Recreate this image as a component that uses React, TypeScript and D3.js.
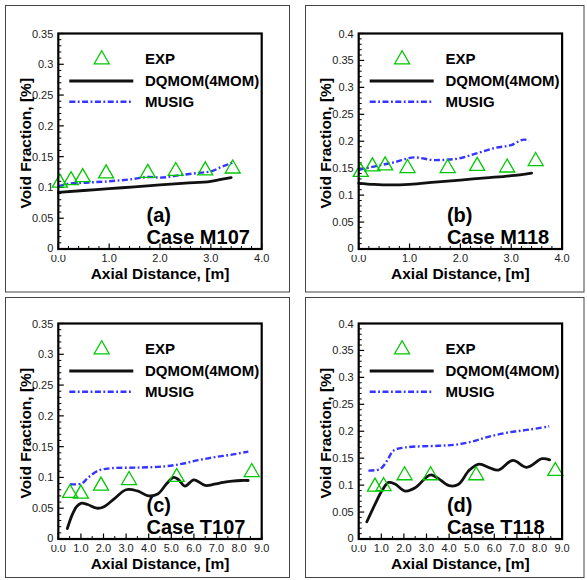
import React from 'react';
import * as d3 from 'd3';

// ---------- data ----------
const expA_x = [0.03, 0.25, 0.48, 0.94, 1.76, 2.31, 2.89, 3.43];
const expA_y = [0.111, 0.115, 0.120, 0.126, 0.127, 0.130, 0.131, 0.134];
const dqA_x = [0, 0.5, 1.0, 1.5, 2.0, 2.5, 3.0, 3.2, 3.4];
const dqA_y = [0.092, 0.095, 0.098, 0.101, 0.104, 0.107, 0.110, 0.113, 0.116];
const muA_x = [0, 0.2, 0.6, 1.0, 1.4, 1.8, 2.0, 2.4, 2.8, 3.0, 3.2, 3.45];
const muA_y = [0.102, 0.106, 0.108, 0.110, 0.113, 0.117, 0.116, 0.120, 0.124, 0.126, 0.133, 0.141];

const expB_x = [0.04, 0.27, 0.52, 0.96, 1.75, 2.33, 2.92, 3.48];
const expB_y = [0.147, 0.157, 0.159, 0.154, 0.154, 0.158, 0.155, 0.167];
const dqB_x = [0, 0.3, 0.6, 1.0, 1.5, 2.0, 2.5, 3.0, 3.4];
const dqB_y = [0.122, 0.120, 0.119, 0.120, 0.124, 0.128, 0.132, 0.136, 0.141];
const muB_x = [0, 0.3, 0.7, 1.1, 1.5, 1.9, 2.3, 2.7, 3.0, 3.25, 3.35];
const muB_y = [0.147, 0.153, 0.161, 0.170, 0.165, 0.167, 0.177, 0.188, 0.193, 0.203, 0.201];

const expC_x = [0.52, 1.0, 1.89, 3.13, 5.24, 8.56];
const expC_y = [0.078, 0.077, 0.090, 0.099, 0.104, 0.112];
const dqC_x = [0.4, 0.6, 0.8, 1.0, 1.3, 1.7, 2.0, 2.5, 3.0, 3.5, 4.0, 4.4, 4.8, 5.1, 5.3, 5.6, 6.0, 6.5, 6.9, 7.3, 7.7, 8.1, 8.4];
const dqC_y = [0.017, 0.038, 0.052, 0.058, 0.056, 0.050, 0.052, 0.066, 0.080, 0.078, 0.070, 0.073, 0.090, 0.100, 0.097, 0.086, 0.096, 0.087, 0.089, 0.092, 0.094, 0.095, 0.095];
const muC_x = [0.52, 1.03, 1.33, 1.77, 2.36, 3.54, 4.72, 5.46, 6.19, 6.93, 7.67, 8.41];
const muC_y = [0.089, 0.090, 0.100, 0.111, 0.115, 0.116, 0.118, 0.122, 0.128, 0.133, 0.137, 0.142];

const expD_x = [0.72, 1.1, 2.03, 3.18, 5.2, 8.7];
const expD_y = [0.101, 0.102, 0.122, 0.122, 0.122, 0.130];
const dqD_x = [0.36, 0.73, 1.02, 1.32, 1.61, 2.06, 2.5, 3.0, 3.2, 3.5, 4.0, 4.4, 4.9, 5.33, 5.8, 6.18, 6.82, 7.44, 8.11, 8.45];
const dqD_y = [0.032, 0.065, 0.089, 0.105, 0.102, 0.089, 0.095, 0.115, 0.119, 0.113, 0.099, 0.101, 0.128, 0.139, 0.132, 0.128, 0.146, 0.133, 0.149, 0.147];
const muD_x = [0.43, 0.95, 1.25, 1.54, 2.06, 3.54, 4.28, 5.03, 5.77, 6.65, 7.54, 8.43];
const muD_y = [0.127, 0.130, 0.145, 0.164, 0.170, 0.173, 0.175, 0.181, 0.190, 0.198, 0.203, 0.209];

const xTicksShort = ['0.0', '1.0', '2.0', '3.0', '4.0'];
const xTicksLong = ['0.0', '1.0', '2.0', '3.0', '4.0', '5.0', '6.0', '7.0', '8.0', '9.0'];
const yTicks035 = ['0', '0.05', '0.1', '0.15', '0.2', '0.25', '0.3', '0.35'];
const yTicks04 = ['0', '0.05', '0.1', '0.15', '0.2', '0.25', '0.3', '0.35', '0.4'];

const legendLabels = ['EXP', 'DQMOM(4MOM)', 'MUSIG'];
const panelTags = ['(a)', '(b)', '(c)', '(d)'];
const caseNames = ['Case M107', 'Case M118', 'Case T107', 'Case T118'];

const zip = (xs: number[], ys: number[]) => xs.map((x, i) => [x, ys[i]] as [number, number]);

const FONT = "'Liberation Sans', Arial, Helvetica, sans-serif";
const GREEN = '#00c800';
const BLUE = '#3535ff';

interface PanelProps {
  id: string;
  ox: number; oy: number;
  xMax: number; yMax: number;
  xTicks: string[]; yTicks: string[];
  xMinor: number;
  exp: [number, number][]; dq: [number, number][]; mu: [number, number][];
  tag: string; name: string; wavy: boolean;
}

function tri(cx: number, cy: number, w = 15, h = 13) {
  return `M${cx},${cy - h / 2}L${cx + w / 2},${cy + h / 2}L${cx - w / 2},${cy + h / 2}Z`;
}

function Panel(p: PanelProps) {
  const L = 58.3 + p.ox, T = 33.5 + p.oy, PW = 203.4, PH = 215.5;
  const x = d3.scaleLinear().domain([0, p.xMax]).range([L, L + PW]);
  const y = d3.scaleLinear().domain([0, p.yMax]).range([T + PH, T]);
  const curve = p.wavy ? d3.curveCatmullRom.alpha(0.5) : d3.curveMonotoneX;
  const line = d3.line<[number, number]>().x(d => x(d[0])).y(d => y(d[1])).curve(curve);
  const yMajor = p.yTicks.map((_, i) => i * 0.05);
  const yMinor = d3.range(0, Math.round(p.yMax * 100) + 1).map(i => i / 100).filter(v => Math.round(v * 100) % 5 !== 0);
  const xMajor = p.xTicks.map((_, i) => i);
  const nMinor = Math.round(p.xMax / p.xMinor);
  const xMinor = d3.range(0, nMinor + 1).map(i => i * p.xMinor).filter(v => Math.abs(v - Math.round(v)) > 1e-6);
  const clipId = 'clip0' + p.id;
  return (
    <g>
      <defs>
        <clipPath id={clipId}>
          <rect x={L - 15} y={T + PH + 6} width={30} height={12} />
        </clipPath>
      </defs>
      {/* ticks */}
      {yMinor.map((v, i) => (
        <line key={'ym' + i} x1={L} x2={L + 3} y1={y(v)} y2={y(v)} stroke="#000" strokeWidth={1} />
      ))}
      {yMajor.map((v, i) => (
        <line key={'yM' + i} x1={L} x2={L + 5.5} y1={y(v)} y2={y(v)} stroke="#000" strokeWidth={1.2} />
      ))}
      {xMinor.map((v, i) => (
        <line key={'xm' + i} x1={x(v)} x2={x(v)} y1={T + PH} y2={T + PH - 3} stroke="#000" strokeWidth={1} />
      ))}
      {xMajor.map((v, i) => (
        <line key={'xM' + i} x1={x(v)} x2={x(v)} y1={T + PH} y2={T + PH - 5.5} stroke="#000" strokeWidth={1.2} />
      ))}
      {/* tick labels */}
      {p.yTicks.map((t, i) => (
        <text key={'yl' + i} x={L - 5} y={y(yMajor[i]) + 4 - (i === 0 ? 1 : 0)} textAnchor="end" fontFamily={FONT} fontSize={11} fill="#222">{t}</text>
      ))}
      {p.xTicks.map((t, i) => (
        <text key={'xl' + i} x={x(xMajor[i])} y={T + PH + 13} textAnchor="middle" fontFamily={FONT} fontSize={11} fill="#222"
          clipPath={i === 0 ? `url(#${clipId})` : undefined}>{t}</text>
      ))}
      {/* axis titles */}
      <text x={L + PW / 2} y={T + PH + 29.5} textAnchor="middle" fontFamily={FONT} fontWeight="bold" fontSize={15.5} fill="#000">Axial Distance, [m]</text>
      <text transform={`translate(${L - 27.5},${T + PH / 2 + 2}) rotate(-90)`} textAnchor="middle" fontFamily={FONT} fontWeight="bold" fontSize={15.5} fill="#000">Void Fraction, [%]</text>
      {/* data */}
      <path d={line(p.dq) || ''} fill="none" stroke="#111" strokeWidth={2.8} strokeLinejoin="round" strokeLinecap="round" />
      <path d={line(p.mu) || ''} fill="none" stroke={BLUE} strokeWidth={2.4} strokeDasharray="6 2.5 1.8 2.5" />
      {p.exp.map((d, i) => (
        <path key={'e' + i} d={tri(x(d[0]), y(d[1]))} fill="none" stroke={GREEN} strokeWidth={1.3} />
      ))}
      {/* frame */}
      <rect x={L} y={T} width={PW} height={PH} fill="none" stroke="#000" strokeWidth={2.2} />
      {/* legend */}
      <path d={tri(101.7 + p.ox, 57.3 + p.oy)} fill="none" stroke={GREEN} strokeWidth={1.3} />
      <text x={145 + p.ox} y={64 + p.oy} fontFamily={FONT} fontWeight="bold" fontSize={15} fill="#000">{legendLabels[0]}</text>
      <line x1={69.3 + p.ox} x2={133.3 + p.ox} y1={81 + p.oy} y2={81 + p.oy} stroke="#111" strokeWidth={2.8} />
      <text x={145 + p.ox} y={86 + p.oy} fontFamily={FONT} fontWeight="bold" fontSize={15} fill="#000">{legendLabels[1]}</text>
      <line x1={69.3 + p.ox} x2={131 + p.ox} y1={101.7 + p.oy} y2={101.7 + p.oy} stroke={BLUE} strokeWidth={2.4} strokeDasharray="6 2.5 1.8 2.5" />
      <text x={145 + p.ox} y={107 + p.oy} fontFamily={FONT} fontWeight="bold" fontSize={15} fill="#000">{legendLabels[2]}</text>
      {/* labels */}
      <text x={146.5 + p.ox} y={222 + p.oy} fontFamily={FONT} fontWeight="bold" fontSize={20} fill="#000">{p.tag}</text>
      <text x={146.5 + p.ox} y={243.5 + p.oy} fontFamily={FONT} fontWeight="bold" fontSize={20} fill="#000">{p.name}</text>
    </g>
  );
}

export default function App() {
  React.useEffect(() => { document.body.style.margin = '0'; }, []);
  const panels: PanelProps[] = [
    { id: 'a', ox: 0, oy: 0, xMax: 4, yMax: 0.35, xTicks: xTicksShort, yTicks: yTicks035, xMinor: 0.2, exp: zip(expA_x, expA_y), dq: zip(dqA_x, dqA_y), mu: zip(muA_x, muA_y), tag: panelTags[0], name: caseNames[0], wavy: false },
    { id: 'b', ox: 300.4, oy: 0, xMax: 4, yMax: 0.4, xTicks: xTicksShort, yTicks: yTicks04, xMinor: 0.2, exp: zip(expB_x, expB_y), dq: zip(dqB_x, dqB_y), mu: zip(muB_x, muB_y), tag: panelTags[1], name: caseNames[1], wavy: false },
    { id: 'c', ox: 0, oy: 290, xMax: 9, yMax: 0.35, xTicks: xTicksLong, yTicks: yTicks035, xMinor: 0.5, exp: zip(expC_x, expC_y), dq: zip(dqC_x, dqC_y), mu: zip(muC_x, muC_y), tag: panelTags[2], name: caseNames[2], wavy: true },
    { id: 'd', ox: 300.4, oy: 290, xMax: 9, yMax: 0.4, xTicks: xTicksLong, yTicks: yTicks04, xMinor: 0.5, exp: zip(expD_x, expD_y), dq: zip(dqD_x, dqD_y), mu: zip(muD_x, muD_y), tag: panelTags[3], name: caseNames[3], wavy: true },
  ];
  const borders = [
    { x: 5.5, y: 5.5, w: 284, h: 286.5 },
    { x: 305.5, y: 5.5, w: 278.5, h: 286.5 },
    { x: 5.5, y: 297.5, w: 284, h: 280 },
    { x: 305.5, y: 297.5, w: 278.5, h: 280 },
  ];
  return (
    <svg width={587} height={580} viewBox="0 0 587 580" style={{ display: 'block', position: 'absolute', left: 0, top: 0, background: '#fff' }}>
      <rect x={0} y={0} width={587} height={580} fill="#fff" />
      {borders.map((b, i) => (
        <rect key={i} x={b.x} y={b.y} width={b.w} height={b.h} fill="none" stroke="#444" strokeWidth={1} />
      ))}
      {panels.map((p, i) => <Panel key={i} {...p} />)}
    </svg>
  );
}
